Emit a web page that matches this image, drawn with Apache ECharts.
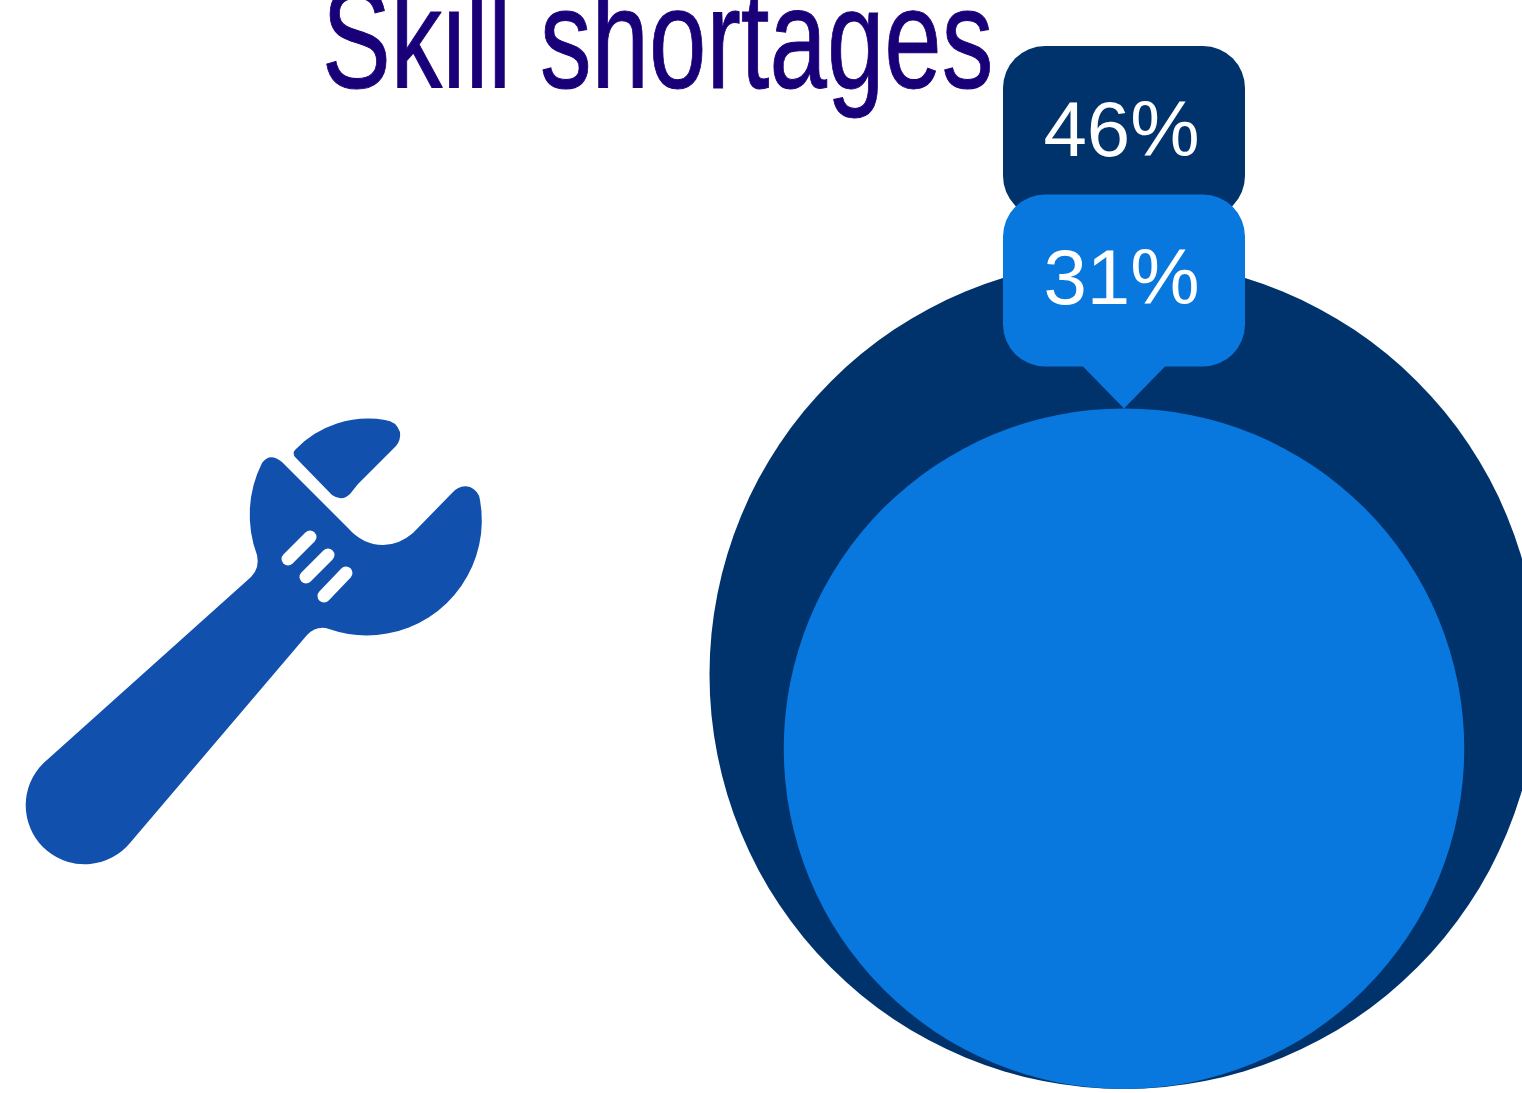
<!DOCTYPE html>
<html>
<head>
<meta charset="utf-8">
<title>Skill shortages</title>
<script src="https://cdn.jsdelivr.net/npm/echarts@6/dist/echarts.min.js"></script>
<style>
html, body { margin: 0; padding: 0; background: #fff; overflow: hidden; }
#chart { width: 1522px; height: 1093px; }
</style>
</head>
<body>
<div id="chart"></div>
<script>
// Chart content
const chartTitle = 'Skill shortages';
const groups = ['Skill shortages'];
const shares = [46, 31];
const shareColors = ['#00336b', '#0877de'];

// Bubble and callout styling
const largestRadius = 414.5;
const calloutWidth = 242;
const calloutHeight = 172;
const calloutRadius = 42;
const pointerHeight = 42;

// Wrench pictogram outlines
const wrenchColor = '#1150ad';
const wrenchBody =
  'M47.8 759.2 L251 577 Q260 568 257 555 A115 115 0 0 1 262 463 Q270 452 282 462 ' +
  'L348 528 Q363 545 383 545 Q399 545 413 533 L452 493 Q460 484 470 487 Q479 491 480 500 ' +
  'A115 115 0 0 1 329 629 Q317 625 307 635 L130.2 842.8 A59 59 0 1 1 47.8 759.2 Z';
const wrenchJaw =
  'M296 449 A101 101 0 0 1 385 420 Q396 421 400 432 Q401 440 396 446 L358 484 L350 494 ' +
  'Q342 502 332 495 L296 458 Q291 453 296 449 Z';
const wrenchSlots = [
  [288, 559, 310, 537],
  [306, 577, 328, 555],
  [324, 596, 346, 573]
];

echarts.graphic.registerShape('wrenchBody', echarts.graphic.extendPath(wrenchBody, {}));
echarts.graphic.registerShape('wrenchJaw', echarts.graphic.extendPath(wrenchJaw, {}));

function renderBubble(params, api) {
  const value = api.value(1);
  const baseline = api.coord([api.value(0), 0]);
  // Area encodes the value, so the radius follows its square root.
  const radius = largestRadius * Math.sqrt(value / Math.max(...shares));
  const cx = baseline[0];
  const top = baseline[1] - radius * 2;
  const color = shareColors[params.dataIndex];
  const boxTop = top - pointerHeight - calloutHeight;
  return {
    type: 'group',
    children: [
      { type: 'circle', shape: { cx: cx, cy: top + radius, r: radius }, style: { fill: color } },
      {
        type: 'rect',
        shape: { x: cx - calloutWidth / 2, y: boxTop, width: calloutWidth, height: calloutHeight, r: calloutRadius },
        style: { fill: color }
      },
      {
        type: 'polygon',
        shape: { points: [[cx - pointerHeight, top - pointerHeight - 1], [cx + pointerHeight, top - pointerHeight - 1], [cx, top]] },
        style: { fill: color }
      },
      {
        type: 'text',
        style: {
          x: cx - 2.5,
          y: boxTop + 88,
          text: value + '%',
          fill: '#ffffff',
          font: '78px "Liberation Sans", Arial, sans-serif',
          textAlign: 'center',
          textVerticalAlign: 'middle'
        }
      }
    ]
  };
}

const chart = echarts.init(document.getElementById('chart'), null, { renderer: 'canvas' });
chart.setOption({
  animation: false,
  backgroundColor: '#ffffff',
  // The larger bubble runs past the right edge of the canvas, so the grid must not be fitted to it.
  grid: { left: 709.5, width: 829, top: 0, bottom: 4, outerBoundsMode: 'none', containLabel: false },
  xAxis: { type: 'category', data: groups, show: false },
  yAxis: { type: 'value', min: 0, max: 100, show: false },
  graphic: [
    {
      type: 'text',
      x: 322,
      y: -23,
      scaleX: 0.722,
      style: {
        text: chartTitle,
        fill: '#1a0078',
        stroke: '#1a0078',
        lineWidth: 1,
        font: '143px "Liberation Sans", sans-serif',
        textAlign: 'left'
      }
    },
    { type: 'wrenchBody', style: { fill: wrenchColor } },
    { type: 'wrenchJaw', style: { fill: wrenchColor } },
    ...wrenchSlots.map(s => ({
      type: 'line',
      shape: { x1: s[0], y1: s[1], x2: s[2], y2: s[3] },
      style: { stroke: '#ffffff', lineWidth: 13, lineCap: 'round' }
    }))
  ],
  series: [{
    type: 'custom',
    renderItem: renderBubble,
    clip: false,
    encode: { x: 0, y: 1 },
    data: shares.map(v => [0, v])
  }]
});
</script>
</body>
</html>
